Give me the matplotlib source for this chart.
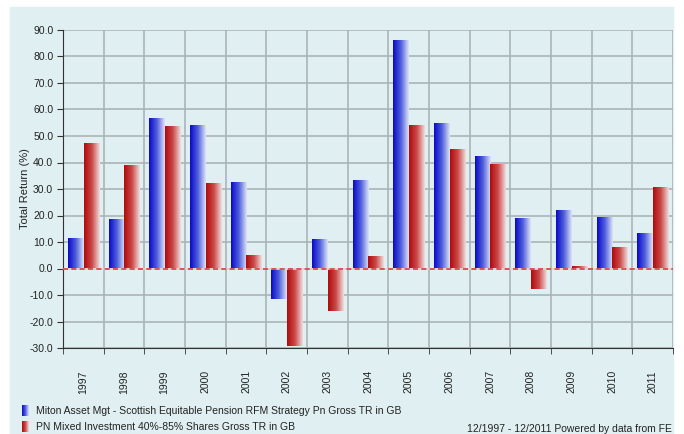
import numpy as np
import matplotlib.pyplot as plt
from matplotlib.patches import Rectangle
from matplotlib.colors import LinearSegmentedColormap

years = ["1997", "1998", "1999", "2000", "2001", "2002", "2003", "2004",
         "2005", "2006", "2007", "2008", "2009", "2010", "2011"]
miton = [11.4, 18.5, 56.7, 54.2, 32.7, -11.4, 11.3, 33.5,
         86.2, 55.0, 42.4, 19.0, 22.2, 19.6, 13.3]
pn_mixed = [47.2, 39.2, 53.8, 32.3, 5.0, -29.2, -15.9, 4.6,
            54.2, 45.2, 39.4, -7.7, 0.8, 8.1, 30.6]

series_names = ["Miton Asset Mgt - Scottish Equitable Pension RFM Strategy Pn Gross TR in GB",
                "PN Mixed Investment 40%-85% Shares Gross TR in GB"]

bg = "#e0eff1"
blue_cm = LinearSegmentedColormap.from_list("b", ["#0a0ac8", "#5060dc", "#dde3f6"])
red_cm = LinearSegmentedColormap.from_list("r", ["#b00a0a", "#cc4a4a", "#eedede"])
grad = np.linspace(0, 1, 64).reshape(1, -1)

plt.rcParams['font.family'] = ['Liberation Sans', 'DejaVu Sans']

fig = plt.figure(figsize=(6.84, 4.34), dpi=100)
fig.patches.append(Rectangle((10 / 684, 0), 663 / 684, 1 - 7 / 434,
                             transform=fig.transFigure, color=bg, zorder=-5))

ax = fig.add_axes([63 / 684, 1 - 348 / 434, 610 / 684, 318 / 434])
ax.set_facecolor("none")

x = np.arange(len(years))
w = 0.37
bars_b = ax.bar(x - w / 2 - 0.01, miton, w, color="none", zorder=3)
bars_r = ax.bar(x + w / 2 + 0.01, pn_mixed, w, color="none", zorder=3)

# horizontal gradient fill for each bar
for bars, cm in ((bars_b, blue_cm), (bars_r, red_cm)):
    for b in bars:
        x0, y0 = b.get_x(), b.get_y()
        x1, y1 = x0 + b.get_width(), y0 + b.get_height()
        im = ax.imshow(grad, cmap=cm, aspect="auto", extent=(x0, x1, min(y0, y1), max(y0, y1)),
                       zorder=3, interpolation="bilinear")
        im.set_clip_path(b)

ax.set_xlim(-0.5, len(years) - 0.5)
ax.set_ylim(-30, 90)
ax.set_yticks(np.arange(-30, 91, 10))
ax.set_yticklabels([f"{v:.1f}" for v in np.arange(-30, 91, 10)], fontsize=7.5, color="#222222")
ax.set_xticks(x)
ax.set_xticklabels(years, rotation=90, fontsize=7.5, color="#222222")
ax.tick_params(axis="x", length=0, pad=16)
ax.set_xticks(np.arange(-0.5, len(years)), minor=True)
ax.tick_params(axis="x", which="minor", length=4, direction="out", color="#333333")
ax.tick_params(axis="y", length=4, color="#333333", pad=3)

ax.grid(True, axis="y", color="#a9b5b5", lw=1.2, zorder=1)
ax.grid(True, axis="x", which="minor", color="#a9b5b5", lw=1.2, zorder=1)
ax.axhline(0, color="#e8d8dc", lw=1.2, zorder=4)
ax.axhline(0, color="#e03a48", lw=1.2, ls=(0, (3, 2)), zorder=4)

for s in ("top", "right"):
    ax.spines[s].set_visible(False)
ax.spines["left"].set_color("#333333")
ax.spines["bottom"].set_color("#333333")
ax.set_ylabel("Total Return (%)", fontsize=8, color="#222222")
ax.yaxis.set_label_coords(-33 / 610, 0.5)

# legend
for i, (name, cm) in enumerate(zip(series_names, (blue_cm, red_cm))):
    yb = 1 - (416 + 16 * i) / 434
    lax = fig.add_axes([22 / 684, yb, 7 / 684, 11 / 434])
    lax.imshow(grad, cmap=cm, aspect="auto", interpolation="bilinear")
    lax.axis("off")
    fig.text(36 / 684, yb + 5 / 434, name, fontsize=7.5, va="center", color="#222222")

fig.text(672 / 684, 1 - 429 / 434, "12/1997 - 12/2011 Powered by data from FE",
         fontsize=7.5, ha="right", va="center", color="#222222")

fig.savefig("out.png", dpi=100)
